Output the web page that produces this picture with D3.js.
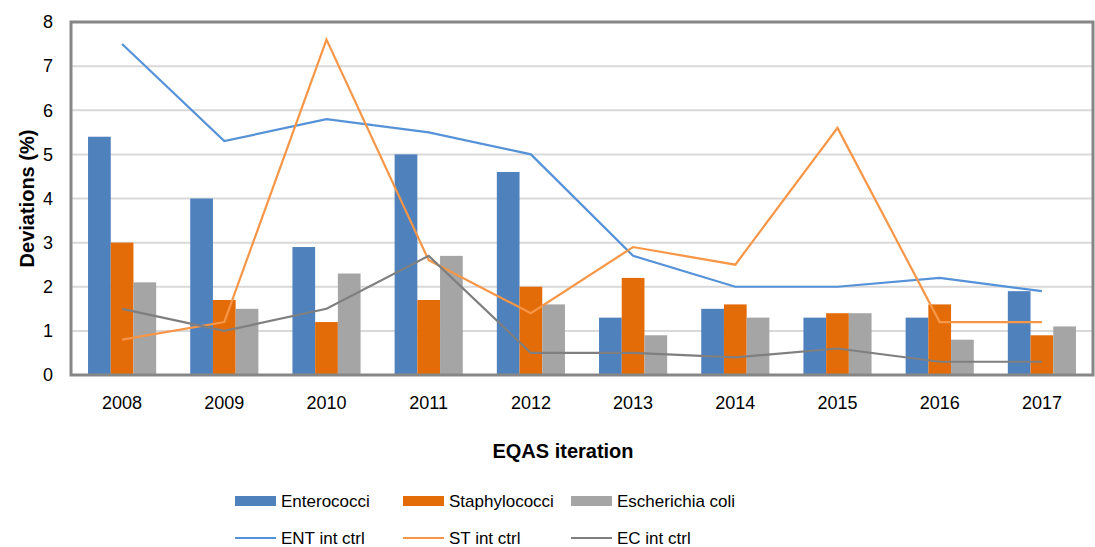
<!DOCTYPE html>
<meta charset="utf-8">
<style>
    body { margin: 0; background: #fff; }
    text { font-family: "Liberation Sans", Arial, sans-serif; fill: #000; }
    .grid line { stroke: #d9d9d9; stroke-width: 2px; }
    .tick-label { font-size: 18px; }
    .axis-title { font-size: 20px; font-weight: bold; }
    .legend text { font-size: 17px; }
</style>
<svg id="svg" width="1095" height="547"></svg>
<script src="https://d3js.org/d3.v7.min.js"></script>
<script>

var years = ["2008", "2009", "2010", "2011", "2012", "2013", "2014", "2015", "2016", "2017"];
var yTicks = [0, 1, 2, 3, 4, 5, 6, 7, 8];

var enterococci = [5.4, 4.0, 2.9, 5.0, 4.6, 1.3, 1.5, 1.3, 1.3, 1.9];
var staphylococci = [3.0, 1.7, 1.2, 1.7, 2.0, 2.2, 1.6, 1.4, 1.6, 0.9];
var ecoli = [2.1, 1.5, 2.3, 2.7, 1.6, 0.9, 1.3, 1.4, 0.8, 1.1];

var entCtrl = [7.5, 5.3, 5.8, 5.5, 5.0, 2.7, 2.0, 2.0, 2.2, 1.9];
var stCtrl = [0.8, 1.2, 7.6, 2.6, 1.4, 2.9, 2.5, 5.6, 1.2, 1.2];
var ecCtrl = [1.5, 1.0, 1.5, 2.7, 0.5, 0.5, 0.4, 0.6, 0.3, 0.3];

var barSeries = [
    {name: "Enterococci", values: enterococci, color: "#4f81bd"},
    {name: "Staphylococci", values: staphylococci, color: "#e36c09"},
    {name: "Escherichia coli", values: ecoli, color: "#a5a5a5"}
];
var lineSeries = [
    {name: "ENT int ctrl", values: entCtrl, color: "#5592d8"},
    {name: "ST int ctrl", values: stCtrl, color: "#f79646"},
    {name: "EC int ctrl", values: ecCtrl, color: "#7f7f7f"}
];

var svg = d3.select("#svg");
var plotLeft = 71, plotRight = 1093, plotTop = 22, plotBottom = 375;

var x = d3.scaleBand().domain(years).range([plotLeft, plotRight]).paddingInner(1/3).paddingOuter(1/6);
var xs = d3.scaleBand().domain([0, 1, 2]).range([0, x.bandwidth()]);
var y = d3.scaleLinear().domain([0, 8]).range([plotBottom, plotTop]);

// gridlines
svg.append("g").attr("class", "grid")
    .selectAll("line").data(yTicks.slice(1)).enter().append("line")
    .attr("x1", plotLeft).attr("x2", plotRight)
    .attr("y1", function(d) { return y(d); }).attr("y2", function(d) { return y(d); });

// bars
barSeries.forEach(function(s, i) {
    svg.append("g").selectAll("rect").data(s.values).enter().append("rect")
        .attr("x", function(d, j) { return x(years[j]) + xs(i); })
        .attr("width", xs.bandwidth())
        .attr("y", function(d) { return y(d); })
        .attr("height", function(d) { return y(0) - y(d); })
        .attr("fill", s.color);
});

// lines
var line = d3.line()
    .x(function(d, j) { return x(years[j]) + x.bandwidth() / 2; })
    .y(function(d) { return y(d); });

lineSeries.forEach(function(s) {
    svg.append("path").datum(s.values)
        .attr("d", line)
        .attr("fill", "none")
        .attr("stroke", s.color)
        .attr("stroke-width", 2.2);
});

// plot border
svg.append("rect")
    .attr("x", plotLeft).attr("y", plotTop)
    .attr("width", plotRight - plotLeft).attr("height", plotBottom - plotTop)
    .attr("fill", "none").attr("stroke", "#868686").attr("stroke-width", 3);

// y ticks
svg.append("g").selectAll("text").data(yTicks).enter().append("text")
    .attr("class", "tick-label")
    .attr("x", 53).attr("y", function(d) { return y(d); })
    .attr("dy", "0.35em").attr("text-anchor", "end")
    .text(function(d) { return d; });

// x ticks
svg.append("g").selectAll("text").data(years).enter().append("text")
    .attr("class", "tick-label")
    .attr("x", function(d) { return x(d) + x.bandwidth() / 2; })
    .attr("y", 403).attr("dy", "0.35em").attr("text-anchor", "middle")
    .text(function(d) { return d; });

// axis titles
svg.append("text").attr("class", "axis-title")
    .attr("transform", "translate(27," + ((plotTop + plotBottom) / 2) + ") rotate(-90)")
    .attr("text-anchor", "middle").attr("dy", "0.35em")
    .text("Deviations (%)");

svg.append("text").attr("class", "axis-title")
    .attr("x", 563).attr("y", 451).attr("dy", "0.35em").attr("text-anchor", "middle")
    .text("EQAS iteration");

// legend
var legendX = [235, 403, 571];
var legend = svg.append("g").attr("class", "legend");
barSeries.forEach(function(s, i) {
    legend.append("rect").attr("x", legendX[i]).attr("y", 496).attr("width", 41).attr("height", 10).attr("fill", s.color);
    legend.append("text").attr("x", legendX[i] + 46).attr("y", 501).attr("dy", "0.35em").text(s.name);
});
lineSeries.forEach(function(s, i) {
    legend.append("line").attr("x1", legendX[i]).attr("x2", legendX[i] + 41)
        .attr("y1", 538).attr("y2", 538).attr("stroke", s.color).attr("stroke-width", 2.2);
    legend.append("text").attr("x", legendX[i] + 46).attr("y", 538).attr("dy", "0.35em").text(s.name);
});

</script>
